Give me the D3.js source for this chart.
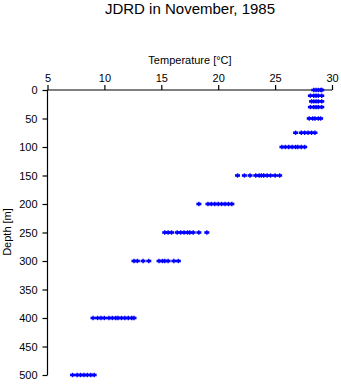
<!DOCTYPE html>
<html><head><meta charset="utf-8">
<script src="https://cdn.jsdelivr.net/npm/d3@7"></script>
<style>body{margin:0;background:#fff}svg{display:block}text{font-family:"Liberation Sans",Arial,sans-serif}</style>
</head><body><svg id="c" width="341" height="384"></svg>
<script>
const title = "JDRD in November, 1985";
const xLabel = "Temperature [\u00B0C]";
const yLabel = "Depth [m]";
const xTicks = [5, 10, 15, 20, 25, 30];
const yTicks = [0, 50, 100, 150, 200, 250, 300, 350, 400, 450, 500];
const depths = [0, 10, 20, 30, 50, 75, 100, 150, 200, 250, 300, 400, 500];
const temps = [
  [28.4, 28.6, 28.8, 29.0, 29.1],
  [28.1, 28.4, 28.6, 28.8, 29.1],
  [28.2, 28.4, 28.6, 28.8, 29.1],
  [28.1, 28.4, 28.6, 28.8, 29.1],
  [28.0, 28.3, 28.5, 28.8, 29.0],
  [26.8, 27.3, 27.6, 27.9, 28.2, 28.5],
  [25.6, 25.9, 26.2, 26.5, 26.8, 27.0, 27.3, 27.6],
  [21.7, 22.3, 22.8, 23.3, 23.6, 23.8, 24.0, 24.3, 24.6, 25.0, 25.4],
  [18.3, 19.1, 19.4, 19.7, 20.0, 20.3, 20.6, 20.9, 21.2],
  [15.3, 15.6, 15.9, 16.4, 16.7, 17.0, 17.3, 17.5, 17.8, 18.3, 19.0],
  [12.6, 12.9, 13.4, 13.9, 14.8, 15.1, 15.3, 15.6, 16.1, 16.5],
  [9.0, 9.4, 9.7, 10.0, 10.4, 10.7, 11.0, 11.2, 11.5, 11.8, 12.1, 12.4, 12.6],
  [7.2, 7.6, 7.9, 8.2, 8.5, 8.8, 9.1]
];

const svg = d3.select("#c");
const x = d3.scaleLinear().domain([5, 30]).range([47.5, 332]);
const y = d3.scaleLinear().domain([0, 500]).range([90, 375]);

svg.append("text").attr("x", 190).attr("y", 14).attr("text-anchor", "middle")
  .attr("font-size", 15).text(title);
svg.append("text").attr("x", 190).attr("y", 64).attr("text-anchor", "middle")
  .attr("font-size", 11).text(xLabel);
svg.append("text").attr("transform", "translate(11,232) rotate(-90)").attr("text-anchor", "middle")
  .attr("font-size", 11).text(yLabel);

const xa = svg.append("g").attr("transform", "translate(0,90)")
  .call(d3.axisTop(x).tickValues(xTicks).tickSize(5).tickPadding(3));
const ya = svg.append("g").attr("transform", "translate(47.5,0)")
  .call(d3.axisLeft(y).tickValues(yTicks).tickSize(5).tickPadding(5));
[xa, ya].forEach(a => {
  a.select(".domain").attr("stroke", "#000").attr("stroke-width", 1.2);
  a.selectAll(".tick line").attr("stroke", "#000").attr("stroke-width", 1.2);
  a.selectAll("text").attr("font-size", 11).attr("fill", "#000")
    .attr("font-family", "'Liberation Sans',Arial,sans-serif");
});
xa.select(".domain").attr("d", `M${x(5)},0H${x(30)}`);
ya.select(".domain").attr("d", `M0,${y(0)}V${y(500)}`);

const pts = [];
depths.forEach((d, i) => temps[i].forEach(t => pts.push({d, t})));
const g = svg.append("g");
g.selectAll("path.h").data(pts).enter().append("path")
  .attr("class", "h")
  .attr("d", p => `M${x(p.t) - 2.5},${y(p.d)}H${x(p.t) + 2.5}`)
  .attr("stroke", "#0000ff").attr("stroke-width", 2.6).attr("fill", "none");
g.selectAll("path.v").data(pts).enter().append("path")
  .attr("class", "v")
  .attr("d", p => `M${x(p.t)},${y(p.d) - 2.2}V${y(p.d) + 2.2}`)
  .attr("stroke", "#0000ff").attr("stroke-width", 1.4).attr("fill", "none");
</script></body></html>
